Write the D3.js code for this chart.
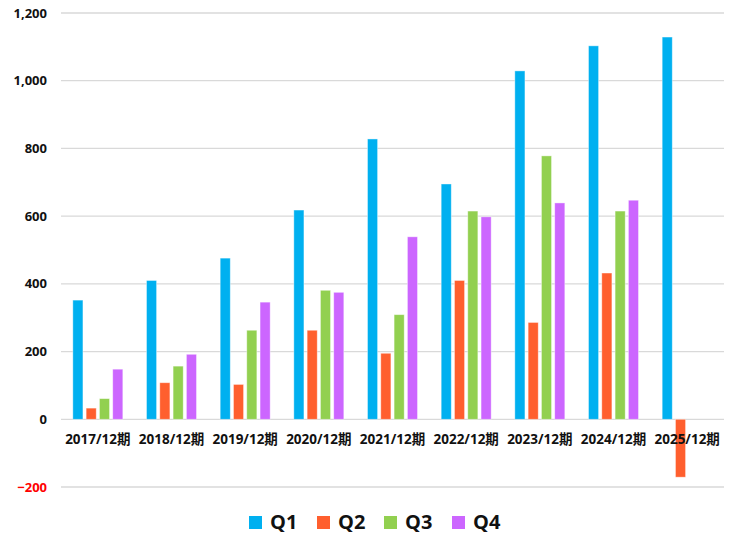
<!DOCTYPE html>
<html><head><meta charset="utf-8">
<script src="https://cdn.jsdelivr.net/npm/d3@7"></script>
<style>body{margin:0;background:#fff}</style>
</head><body>
<svg id="c" width="733" height="534"></svg>
<script>
const categories = ["2017/12期","2018/12期","2019/12期","2020/12期","2021/12期","2022/12期","2023/12期","2024/12期","2025/12期"];
const seriesNames = ["Q1","Q2","Q3","Q4"];
const q1 = [352, 410, 476, 618, 828, 695, 1029, 1103, 1129];
const q2 = [33, 108, 103, 263, 195, 410, 286, 432, -171];
const q3 = [61, 157, 263, 381, 309, 615, 778, 615, null];
const q4 = [148, 192, 346, 375, 539, 598, 639, 647, null];
const yTicks = [-200, 0, 200, 400, 600, 800, 1000, 1200];
const colors = ["#00B0F0", "#FF5F2E", "#92D050", "#CC66FF"];

(function(){
const svg = d3.select("#c");
const font = "'Open Sans', 'Noto Sans CJK JP', sans-serif";
const pL = 61, pR = 724, pT = 13, pB = 487;
const y = d3.scaleLinear().domain([-200, 1200]).range([pB, pT]);
const x0 = d3.scaleBand().domain(categories).range([pL, pR]).paddingInner(0).paddingOuter(0);
const inner = 50;
const x1 = d3.scaleBand().domain(seriesNames).range([0, inner]).paddingInner(0.24);

svg.append("g").selectAll("line").data(yTicks).join("line")
  .attr("x1", pL).attr("x2", pR)
  .attr("y1", d => y(d)).attr("y2", d => y(d))
  .attr("stroke", "#d9d9d9").attr("stroke-width", 1.3);

svg.append("g").selectAll("text").data(yTicks).join("text")
  .attr("x", 47).attr("y", d => y(d)).attr("dy", "0.35em")
  .attr("text-anchor", "end")
  .attr("font-family", font).attr("font-weight", "bold").attr("font-size", 13)
  .attr("fill", d => d < 0 ? "#FF0000" : "#111")
  .text(d => d3.format(",")(d));

const data = [q1, q2, q3, q4];
const g = svg.append("g");
categories.forEach((c, i) => {
  const gx = x0(c) + (x0.bandwidth() - inner) / 2;
  seriesNames.forEach((s, k) => {
    const v = data[k][i];
    if (v === null || v === undefined) return;
    g.append("rect")
      .attr("x", gx + x1(s))
      .attr("width", x1.bandwidth())
      .attr("y", y(Math.max(0, v)))
      .attr("height", Math.abs(y(v) - y(0)))
      .attr("fill", colors[k])
      .attr("stroke", "#fff").attr("stroke-opacity", 0.5).attr("stroke-width", 0.8);
  });
});

svg.append("g").selectAll("text").data(categories).join("text")
  .attr("x", d => x0(d) + x0.bandwidth() / 2)
  .attr("y", 439).attr("dy", "0.35em")
  .attr("text-anchor", "middle")
  .attr("font-family", font).attr("font-weight", "bold").attr("font-size", 13.5)
  .attr("fill", "#111")
  .text(d => d);

const legX = [249, 317, 384, 452];
const lg = svg.append("g");
seriesNames.forEach((s, k) => {
  lg.append("rect").attr("x", legX[k]).attr("y", 516).attr("width", 13).attr("height", 13).attr("fill", colors[k]);
  lg.append("text").attr("x", legX[k] + 21).attr("y", 529)
    .attr("font-family", font).attr("font-weight", "bold").attr("font-size", 20)
    .attr("fill", "#111").text(s);
});
})();
</script>
</body></html>
